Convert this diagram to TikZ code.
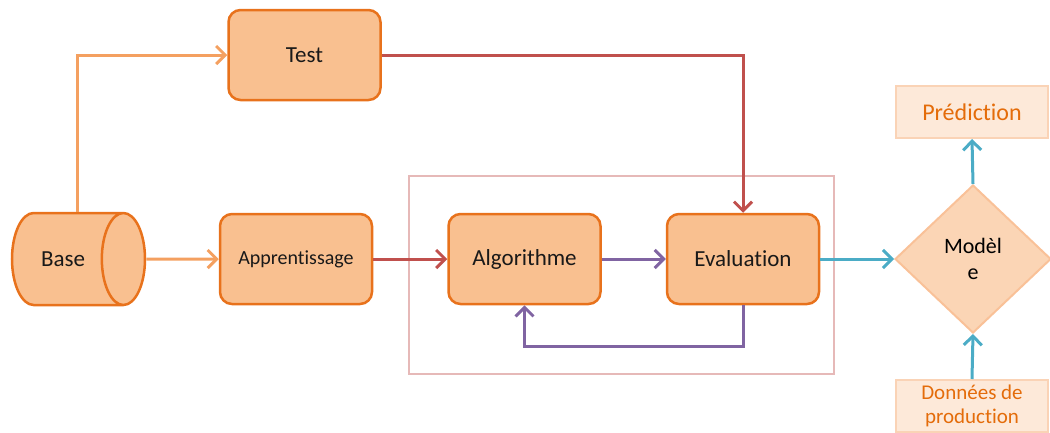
\documentclass[tikz,border=0pt]{standalone}
\usepackage{fontspec}
\setmainfont{Carlito}[Ligatures=NoCommon]
\usepackage{tikz}
\usetikzlibrary{positioning,arrows.meta,shapes.geometric}
\definecolor{boxfill}{HTML}{F9C090}
\definecolor{boxdraw}{HTML}{E8721C}
\definecolor{lightfill}{HTML}{FBD5B5}
\definecolor{lightdraw}{HTML}{F9C198}
\definecolor{palefill}{HTML}{FDE9D9}
\definecolor{paledraw}{HTML}{FAD3B6}
\definecolor{textorange}{HTML}{E46C0A}
\definecolor{feedorange}{HTML}{F4A060}
\definecolor{trainred}{HTML}{C0504D}
\definecolor{loopviolet}{HTML}{8064A2}
\definecolor{prodteal}{HTML}{4BACC6}
\definecolor{framepink}{HTML}{E6B9B8}
\tikzset{
  stage/.style={
    draw=boxdraw, fill=boxfill, rounded corners=12pt, align=center,
    line width=2.5pt, minimum width=152pt, minimum height=90pt,
    font=\fontsize{23}{27}\selectfont, text=black!90,
  },
  outbox/.style={
    draw=paledraw, fill=palefill, line width=2pt, align=center,
    minimum width=152pt, minimum height=52pt, inner sep=2pt,
    text=textorange, font=\fontsize{24}{26}\selectfont,
  },
  link/.style={-{Straight Barb[length=9pt, width=18pt, line width=3pt]}, line width=3pt},
  feed/.style ={link, draw=feedorange},
  train/.style={link, draw=trainred},
  loop/.style ={link, draw=loopviolet},
  prod/.style ={link, draw=prodteal},
}
\begin{document}
\begin{tikzpicture}[x=1pt, y=-1pt]
\useasboundingbox (0,0) rectangle (1050,432);

% learning block frame
\node[draw=framepink, line width=2pt, minimum width=425pt, minimum height=198pt] (block) at (621.5,275) {};

% data source
\node[cylinder, anchor=shape center, draw=boxdraw, fill=boxfill, line width=2.5pt, minimum width=92pt, minimum height=133pt,
  aspect=2.0, font=\fontsize{23}{27}\selectfont, text=black!90] (base) at (78.5,259) {Base};

\node[stage] (test) at (304.5,55) {Test};
\node[stage, font=\fontsize{20}{24}\selectfont] (appr) at (296,259) {Apprentissage};
\node[stage] (algo) at (524.5,259) {Algorithme};
\node[stage] (eval) at (743,259) {Evaluation};

% production side
\node[diamond, draw=lightdraw, fill=lightfill, line width=2pt, minimum width=156pt, minimum height=148pt,
  align=center, font=\fontsize{22}{26}\selectfont, inner sep=0pt] (model) at (973,259) {Modèl\\e};
\node[outbox] (pred) at (972,112) {Prédiction};
\node[outbox, font=\fontsize{21}{24}\selectfont] (prodata) at (972,406) {Données de\\production};

% edges
\draw[feed] ([xshift=14pt]base.north) |- (test.west);
\draw[feed] (base.east) -- (appr.west);
\draw[train] (appr.east) -- (algo.west);
\draw[train] (test.east) -| (eval.north);
\draw[loop] (algo.east) -- (eval.west);
\draw[loop] (eval.south) -- ++(0,41) -| (algo.south);
\draw[prod] (eval.east) -- (model.west);
\draw[prod] (model.north) -- (pred.south);
\draw[prod] (prodata.north) -- (model.south);

\end{tikzpicture}
\end{document}
